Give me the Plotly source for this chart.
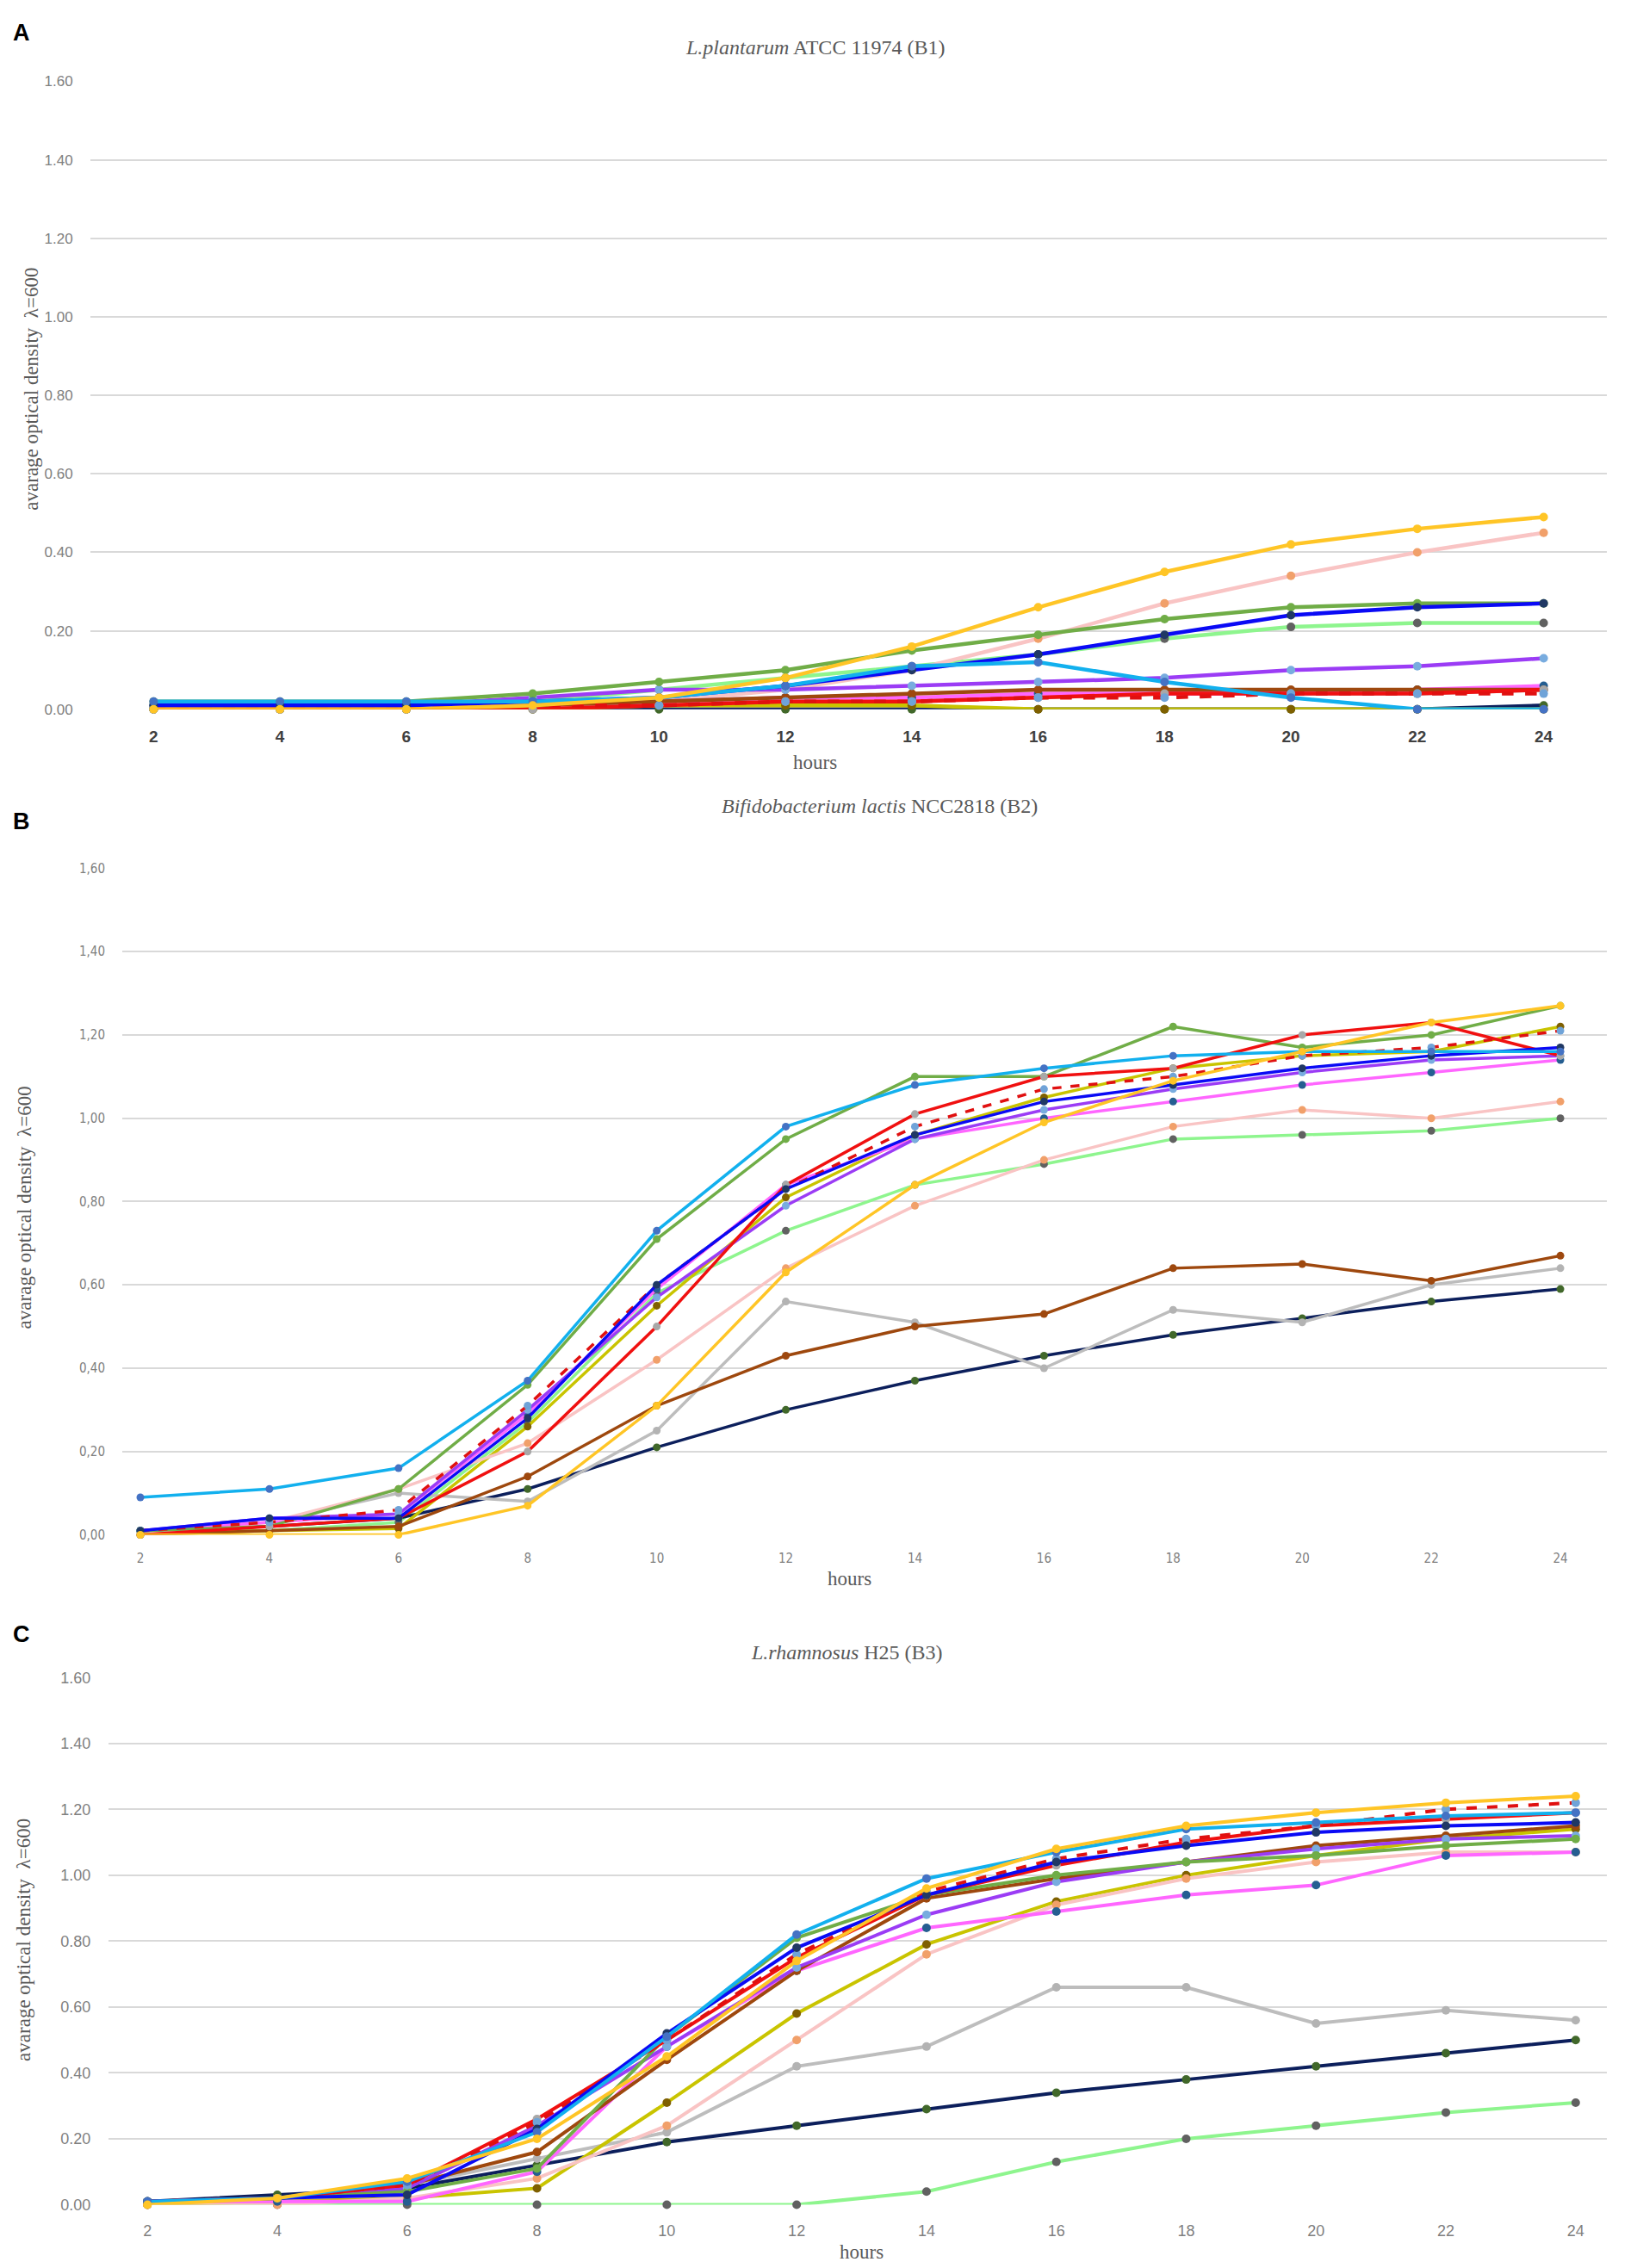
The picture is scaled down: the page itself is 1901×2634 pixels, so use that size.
import plotly.graph_objects as go

hours = [2, 4, 6, 8, 10, 12, 14, 16, 18, 20, 22, 24]
y_ticks = [0, 0.2, 0.4, 0.6, 0.8, 1.0, 1.2, 1.4, 1.6]
y_text_dot = ["0.00", "0.20", "0.40", "0.60", "0.80", "1.00", "1.20", "1.40", "1.60"]
y_text_comma = ["0,00", "0,20", "0,40", "0,60", "0,80", "1,00", "1,20", "1,40", "1,60"]

titles = ["<i>L.plantarum</i> ATCC 11974 (B1)",
          "<i>Bifidobacterium lactis</i> NCC2818 (B2)",
          "<i>L.rhamnosus</i> H25 (B3)"]
panel_letters = ["A", "B", "C"]

# series order = drawing order (bottom -> top)
series = ["lightgreen", "navy", "gray", "olive", "pink", "magenta", "brown",
          "purple", "green", "red", "red_dashed", "blue", "skyblue", "gold"]

# panel A  (B1)
a_lightgreen = [0.01, 0.01, 0.01, 0.02, 0.05, 0.08, 0.11, 0.14, 0.18, 0.21, 0.22, 0.22]
a_navy = [0.00, 0.00, 0.00, 0.00, 0.00, 0.00, 0.00, 0.00, 0.00, 0.00, 0.00, 0.01]
a_gray = [0.01, 0.01, 0.01, 0.01, 0.02, 0.03, 0.03, 0.03, 0.04, 0.04, 0.04, 0.05]
a_olive = [0.00, 0.00, 0.00, 0.00, 0.01, 0.01, 0.01, 0.00, 0.00, 0.00, 0.00, 0.00]
a_pink = [0.00, 0.00, 0.00, 0.01, 0.02, 0.05, 0.10, 0.18, 0.27, 0.34, 0.40, 0.45]
a_magenta = [0.00, 0.00, 0.00, 0.01, 0.02, 0.03, 0.03, 0.04, 0.04, 0.04, 0.05, 0.06]
a_brown = [0.00, 0.00, 0.00, 0.01, 0.02, 0.03, 0.04, 0.05, 0.05, 0.05, 0.05, 0.05]
a_purple = [0.01, 0.01, 0.01, 0.03, 0.05, 0.05, 0.06, 0.07, 0.08, 0.10, 0.11, 0.13]
a_green = [0.02, 0.02, 0.02, 0.04, 0.07, 0.10, 0.15, 0.19, 0.23, 0.26, 0.27, 0.27]
a_red = [0.00, 0.00, 0.00, 0.00, 0.01, 0.02, 0.02, 0.03, 0.04, 0.04, 0.04, 0.05]
a_red_dashed = [0.00, 0.00, 0.00, 0.01, 0.01, 0.02, 0.02, 0.03, 0.03, 0.04, 0.04, 0.04]
a_blue = [0.01, 0.01, 0.01, 0.02, 0.03, 0.06, 0.10, 0.14, 0.19, 0.24, 0.26, 0.27]
a_skyblue = [0.02, 0.02, 0.02, 0.02, 0.03, 0.06, 0.11, 0.12, 0.07, 0.03, 0.00, 0.00]
a_gold = [0.00, 0.00, 0.00, 0.01, 0.03, 0.08, 0.16, 0.26, 0.35, 0.42, 0.46, 0.49]

# panel B  (B2)
b_lightgreen = [0.01, 0.01, 0.03, 0.27, 0.58, 0.73, 0.84, 0.89, 0.95, 0.96, 0.97, 1.00]
b_navy = [0.01, 0.02, 0.04, 0.11, 0.21, 0.30, 0.37, 0.43, 0.48, 0.52, 0.56, 0.59]
b_gray = [0.01, 0.03, 0.10, 0.08, 0.25, 0.56, 0.51, 0.40, 0.54, 0.51, 0.60, 0.64]
b_olive = [0.00, 0.01, 0.015, 0.26, 0.55, 0.81, 0.96, 1.05, 1.12, 1.15, 1.16, 1.22]
b_pink = [0.00, 0.03, 0.11, 0.22, 0.42, 0.64, 0.79, 0.90, 0.98, 1.02, 1.00, 1.04]
b_magenta = [0.01, 0.03, 0.05, 0.29, 0.59, 0.84, 0.95, 1.00, 1.04, 1.08, 1.11, 1.14]
b_brown = [0.00, 0.01, 0.02, 0.14, 0.31, 0.43, 0.50, 0.53, 0.64, 0.65, 0.61, 0.67]
b_purple = [0.01, 0.04, 0.05, 0.30, 0.57, 0.79, 0.95, 1.02, 1.07, 1.11, 1.14, 1.15]
b_green = [0.01, 0.02, 0.11, 0.36, 0.71, 0.95, 1.10, 1.10, 1.22, 1.17, 1.20, 1.27]
b_red = [0.00, 0.02, 0.04, 0.20, 0.50, 0.84, 1.01, 1.10, 1.12, 1.20, 1.23, 1.15]
b_red_dashed = [0.01, 0.03, 0.06, 0.31, 0.60, 0.83, 0.98, 1.07, 1.10, 1.15, 1.17, 1.21]
b_blue = [0.01, 0.04, 0.04, 0.28, 0.60, 0.83, 0.96, 1.04, 1.08, 1.12, 1.15, 1.17]
b_skyblue = [0.09, 0.11, 0.16, 0.37, 0.73, 0.98, 1.08, 1.12, 1.15, 1.16, 1.16, 1.16]
b_gold = [0.00, 0.00, 0.00, 0.07, 0.31, 0.63, 0.84, 0.99, 1.09, 1.16, 1.23, 1.27]

# panel C  (B3)
c_lightgreen = [0.00, 0.00, 0.00, 0.00, 0.00, 0.00, 0.04, 0.13, 0.20, 0.24, 0.28, 0.31]
c_navy = [0.01, 0.03, 0.05, 0.12, 0.19, 0.24, 0.29, 0.34, 0.38, 0.42, 0.46, 0.50]
c_gray = [0.01, 0.02, 0.06, 0.14, 0.22, 0.42, 0.48, 0.66, 0.66, 0.55, 0.59, 0.56]
c_olive = [0.00, 0.01, 0.02, 0.05, 0.31, 0.58, 0.79, 0.92, 1.00, 1.06, 1.11, 1.14]
c_pink = [0.00, 0.00, 0.02, 0.08, 0.24, 0.50, 0.76, 0.91, 0.99, 1.04, 1.07, 1.07]
c_magenta = [0.01, 0.01, 0.01, 0.10, 0.48, 0.71, 0.84, 0.89, 0.94, 0.97, 1.06, 1.07]
c_brown = [0.01, 0.02, 0.06, 0.16, 0.44, 0.71, 0.93, 0.99, 1.04, 1.09, 1.12, 1.15]
c_purple = [0.01, 0.02, 0.05, 0.24, 0.48, 0.72, 0.88, 0.98, 1.04, 1.08, 1.11, 1.12]
c_green = [0.01, 0.02, 0.04, 0.11, 0.51, 0.81, 0.94, 1.00, 1.04, 1.06, 1.09, 1.11]
c_red = [0.01, 0.02, 0.06, 0.26, 0.50, 0.75, 0.94, 1.03, 1.10, 1.15, 1.17, 1.19]
c_red_dashed = [0.01, 0.02, 0.06, 0.25, 0.50, 0.76, 0.95, 1.05, 1.11, 1.15, 1.20, 1.22]
c_blue = [0.01, 0.02, 0.03, 0.23, 0.52, 0.78, 0.94, 1.04, 1.09, 1.13, 1.15, 1.16]
c_skyblue = [0.01, 0.02, 0.07, 0.22, 0.51, 0.82, 0.99, 1.07, 1.14, 1.16, 1.18, 1.19]
c_gold = [0.00, 0.02, 0.08, 0.20, 0.45, 0.74, 0.96, 1.08, 1.15, 1.19, 1.22, 1.24]

panels = [
    [a_lightgreen, a_navy, a_gray, a_olive, a_pink, a_magenta, a_brown,
     a_purple, a_green, a_red, a_red_dashed, a_blue, a_skyblue, a_gold],
    [b_lightgreen, b_navy, b_gray, b_olive, b_pink, b_magenta, b_brown,
     b_purple, b_green, b_red, b_red_dashed, b_blue, b_skyblue, b_gold],
    [c_lightgreen, c_navy, c_gray, c_olive, c_pink, c_magenta, c_brown,
     c_purple, c_green, c_red, c_red_dashed, c_blue, c_skyblue, c_gold],
]

# (line colour, marker colour, dash)
styles = {
    "lightgreen": ("#8ef58e", "#616161", "solid"),
    "navy": ("#0c1f5c", "#41682a", "solid"),
    "gray": ("#bdbdbd", "#b3b3b3", "solid"),
    "olive": ("#c9c400", "#7f6000", "solid"),
    "pink": ("#f9c4c4", "#f1a06a", "solid"),
    "magenta": ("#ff66ff", "#255e91", "solid"),
    "brown": ("#9e480e", "#9e480e", "solid"),
    "purple": ("#9b3cf5", "#78acdf", "solid"),
    "green": ("#70ad47", "#70ad47", "solid"),
    "red": ("#f01010", "#a8a8a8", "solid"),
    "red_dashed": ("#e01010", "#6fa3d8", "dash"),
    "blue": ("#0a0af5", "#203864", "solid"),
    "skyblue": ("#12b0ee", "#4472c4", "solid"),
    "gold": ("#ffc526", "#ffc526", "solid"),
}

W, H = 1901, 2634
# plot boxes in pixels: left, right, top, bottom
boxes = [(97, 1858, 77, 812), (134, 1858, 998, 1778), (118, 1858, 1945, 2562)]
x_ranges = [[1.0, 25.0], [1.72, 24.72], [1.40, 24.48]]
line_w = [4.5, 3.5, 4]
marker_sz = [10, 9, 10]
sans = "Liberation Sans, Arial, sans-serif"
narrow = "Liberation Sans Narrow, DejaVu Sans Condensed, Arial Narrow, sans-serif"
y_fonts = [
    dict(family=sans, size=17, color="#808080"),
    dict(family=narrow, size=15, color="#7f7f7f"),
    dict(family=sans, size=18, color="#7f7f7f"),
]
x_fonts = [
    dict(family=sans, size=19, color="#404040", weight="bold"),
    dict(family=narrow, size=15, color="#7f7f7f"),
    dict(family=sans, size=18, color="#7f7f7f"),
]
y_texts = [y_text_dot, y_text_comma, y_text_dot]
title_pos = [(938, 37), (1013, 925), (975, 1916)]
letter_pos = [(17, 20), (17, 943), (17, 1894)]
hours_pos = [(938, 874), (978, 1829), (992, 2617)]
ylab_pos = [(29, 437), (20, 1395), (20, 2252)]

fig = go.Figure()
annotations = []
serif = "Liberation Serif, Times New Roman, serif"


def note(text, px, py, font, angle=0):
    return dict(text=text, x=px / W, y=1 - py / H, xref="paper", yref="paper",
                xanchor="center", yanchor="middle", showarrow=False,
                textangle=angle, font=font)


for p in range(3):
    left, right, top, bottom = boxes[p]
    sfx = "" if p == 0 else str(p + 1)
    for name, vals in zip(series, panels[p]):
        lc, mc, dash = styles[name]
        fig.add_trace(go.Scatter(
            x=hours, y=vals, name=name, mode="lines+markers",
            line=dict(color=lc, width=line_w[p], dash=dash),
            marker=dict(color=mc, size=marker_sz[p]),
            cliponaxis=False, showlegend=False,
            xaxis="x" + sfx, yaxis="y" + sfx,
        ))
    fig.update_layout({
        "xaxis" + sfx: dict(
            domain=[left / W, right / W], anchor="y" + sfx, range=x_ranges[p],
            tickvals=hours, showgrid=False, zeroline=False, showline=False,
            ticks="outside", ticklen=14, tickcolor="rgba(0,0,0,0)",
            tickfont=x_fonts[p],
        ),
        "yaxis" + sfx: dict(
            domain=[1 - bottom / H, 1 - top / H], anchor="x" + sfx, range=[0, 1.6],
            tickvals=y_ticks, ticktext=y_texts[p], showgrid=True,
            gridcolor="#d9d9d9", gridwidth=2, zeroline=False, showline=False,
            ticks="outside", ticklen=16, tickcolor="rgba(0,0,0,0)",
            tickfont=y_fonts[p],
        ),
    })
    annotations.append(note(titles[p], *title_pos[p],
                            dict(family=serif, size=24, color="#595959")))
    annotations.append(note(panel_letters[p], *letter_pos[p],
                            dict(family=sans, size=27, color="#000000", weight="bold")))
    annotations.append(note("hours", *hours_pos[p],
                            dict(family=serif, size=23, color="#595959")))
    annotations.append(note("avarage optical density  \u03bb=600", *ylab_pos[p],
                            dict(family=serif, size=23, color="#595959"), angle=-90))

fig.update_layout(
    width=W, height=H,
    margin=dict(l=0, r=0, t=0, b=0),
    paper_bgcolor="white", plot_bgcolor="white",
    annotations=annotations,
)

fig.write_html("out.html")
